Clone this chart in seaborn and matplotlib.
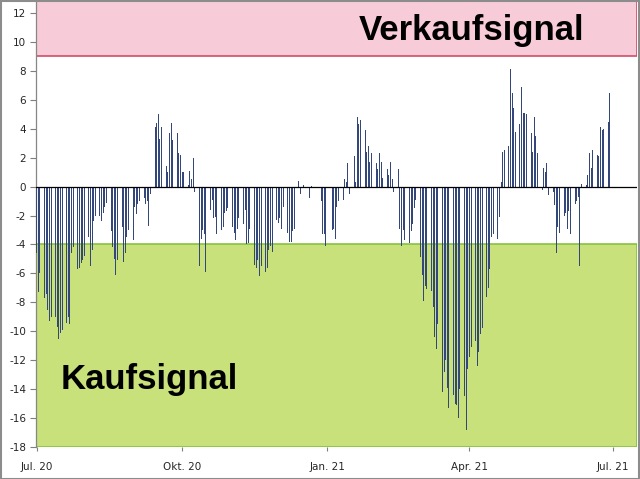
#------------------------------------------------------------------------------
# Libraries
#------------------------------------------------------------------------------

import numpy as np
import pandas as pd
import seaborn as sns
import matplotlib.pyplot as plt
import matplotlib.dates as mdates
from matplotlib.patches import Rectangle

#------------------------------------------------------------------------------
# Data (one value per trading day)
#------------------------------------------------------------------------------

first_day = '2020-07-01'
last_day = '2021-06-29'

# Jul 1 2020 - Sep 25 2020
weeks_00_12 = [-4.6, -7.3, -6.0,
               -7.7, -7.4, -8.5, -9.3, -9.0,
               -9.0, -9.7, -10.5, -10.1, -9.9,
               -9.4, -9.0, -9.5, -4.6, -4.2,
               -5.7, -5.6, -5.3, -5.1, -4.8,
               -3.5, -5.5, -4.4, -2.4, -2.0,
               -2.0, -2.4, -1.8, -1.4, -1.1,
               -3.1, -4.2, -5.0, -6.1, -5.1,
               -2.8, -5.2, -4.6, -3.5, -3.0,
               -3.7, -1.4, -1.9, -1.2, -1.0,
               -0.8, -1.2, -1.0, -2.7, -0.5,
               4.1, 4.4, 5.0, 3.3, 4.1,
               1.4, 1.0, 3.7, 4.4, 3.2]

# Sep 28 2020 - Jan 1 2021
weeks_13_26 = [3.7, 2.3, 2.2, 1.0, 1.0,
               0.1, 1.1, 0.5, 2.0, -0.35,
               -5.5, -3.6, -3.0, -3.3, -5.9,
               -1.6, -0.9, -2.2, -2.1, -3.3,
               -3.0, -2.8, -1.8, -1.7, -1.5,
               -2.8, -3.2, -3.7, -2.9, -2.2,
               -2.6, -1.6, -4.0, -3.9, -2.9,
               -5.4, -5.6, -5.1, -6.2, -5.5,
               -5.9, -5.6, -4.4, -4.1, -4.5,
               -2.3, -2.5, -2.2, -2.9, -1.4,
               -3.2, -3.8, -3.8, -3.1, -2.9,
               0.4, -0.5, -0.1, 0.1, -0.1,
               -0.8, 0.05, 0.0, 0.0, 0.0,
               -1.0, -3.3, -3.3, -4.1, 0.0]

# Jan 4 2021 - Apr 2 2021
weeks_27_39 = [-3.0, -2.9, -3.6, -1.4, -1.0,
               -0.9, 0.5, 0.3, 1.6, -0.5,
               2.1, 0.35, 4.8, 4.3, 4.6,
               3.9, 2.4, 2.8, 1.7, 2.3,
               1.6, 1.2, 2.3, 1.7, 0.6,
               1.2, 0.8, 1.7, 0.5, -0.35,
               1.2, -2.9, -4.1, -3.0, -3.7,
               -3.9, -3.1, -2.6, -1.5, -0.9,
               -4.9, -6.1, -7.9, -6.9, -7.1,
               -7.2, -8.3, -10.4, -11.2, -9.5,
               -14.2, -12.8, -12.0, -13.9, -15.3,
               -14.4, -15.0, -15.1, -16.0, -14.0,
               -14.5, -16.8, -12.6, -11.8, -11.1]

# Apr 5 2021 - Jun 29 2021
weeks_40_52 = [-10.7, -12.4, -11.4, -10.2, -9.8,
               -7.6, -7.0, -5.7, -3.5, -3.3,
               -3.6, -2.1, 0.3, 2.4, 2.5,
               2.8, 8.1, 6.5, 5.4, 3.8,
               4.3, 6.9, 5.1, 5.1, 5.0,
               3.7, 2.4, 4.8, 3.5, 2.3,
               -0.2, 1.3, 1.0, 1.6, -0.6,
               -0.4, -1.3, -4.6, -2.8, -3.2,
               -2.0, -1.8, -2.9, -1.7, -3.3,
               -1.2, -1.0, -0.7, -5.5, 0.2,
               0.1, 0.8, 2.3, 1.3, 2.5,
               2.2, 2.1, 4.1, 3.9, 4.0,
               4.5, 6.5]

tick_dates = ['2020-07-01', '2020-10-01', '2021-01-01', '2021-04-01', '2021-07-01']
tick_labels = ['Jul. 20', 'Okt. 20', 'Jan. 21', 'Apr. 21', 'Jul. 21']
y_ticks = list(range(-18, 13, 2))

sell_band = (9, 13)
buy_band = (-18, -4)

#------------------------------------------------------------------------------
# Build frame
#------------------------------------------------------------------------------

days = pd.bdate_range(first_day, last_day)
values = weeks_00_12 + weeks_13_26 + weeks_27_39 + weeks_40_52
df = pd.DataFrame({'day': mdates.date2num(days), 'signal': values})

#------------------------------------------------------------------------------
# Plot
#------------------------------------------------------------------------------

sns.set_style('white')
plt.rcParams['font.family'] = ['DejaVu Sans']
plt.rcParams['axes.unicode_minus'] = False

fig = plt.figure(figsize=(6.4, 4.79), dpi=100)
ax = fig.add_axes([0.0563, 0.0668, 0.9387, 0.9332])

sns.barplot(data=df, x='day', y='signal', native_scale=True,
            color='#34477a', errorbar=None, saturation=1, ax=ax)

# thin daily columns, as in the original
for bar in ax.patches:
    centre = bar.get_x() + bar.get_width() / 2
    bar.set_width(0.62)
    bar.set_x(centre - 0.31)
    bar.set_linewidth(0)
    bar.set_zorder(3)

ax.axhspan(*sell_band, facecolor='#f7ccd8', edgecolor='#d24d67', lw=1.2, zorder=0.5)
ax.axhspan(*buy_band, facecolor='#c8e17a', edgecolor='#86c240', lw=1.2, zorder=0.5)

ax.axhline(0, color='black', lw=0.9, zorder=4)

ax.set_xlim(mdates.date2num(pd.Timestamp('2020-06-30 12:00')),
            mdates.date2num(pd.Timestamp('2021-07-16')))
ax.set_ylim(-18, 12.9)

ax.set_xticks(mdates.date2num(pd.to_datetime(tick_dates)))
ax.set_xticklabels(tick_labels)
ax.set_yticks(y_ticks)
ax.set_xlabel('')
ax.set_ylabel('')
ax.tick_params(axis='x', length=3, width=0.8, color='#7f7f7f', pad=8, labelsize=7.5, bottom=True)
ax.tick_params(axis='y', length=4, width=0.8, color='#7f7f7f', pad=3, labelsize=7.5, left=True)

for side in ['top', 'right', 'bottom']:
    ax.spines[side].set_visible(False)
ax.spines['left'].set_color('#868686')
ax.spines['left'].set_linewidth(0.9)

ax.text(0.737, 0.936, 'Verkaufsignal', transform=fig.transFigure, ha='center', va='center',
        fontsize=25, fontweight='bold', family='Liberation Sans', color='black', zorder=5)
ax.text(0.233, 0.207, 'Kaufsignal', transform=fig.transFigure, ha='center', va='center',
        fontsize=25, fontweight='bold', family='Liberation Sans', color='black', zorder=5)

fig.patches.append(Rectangle((0.001, 0.001), 0.997, 0.997, transform=fig.transFigure,
                             fill=False, edgecolor='#8c8c8c', lw=1.5))

fig.savefig('out.png', dpi=100)

#------------------------------------------------------------------------------
# END
